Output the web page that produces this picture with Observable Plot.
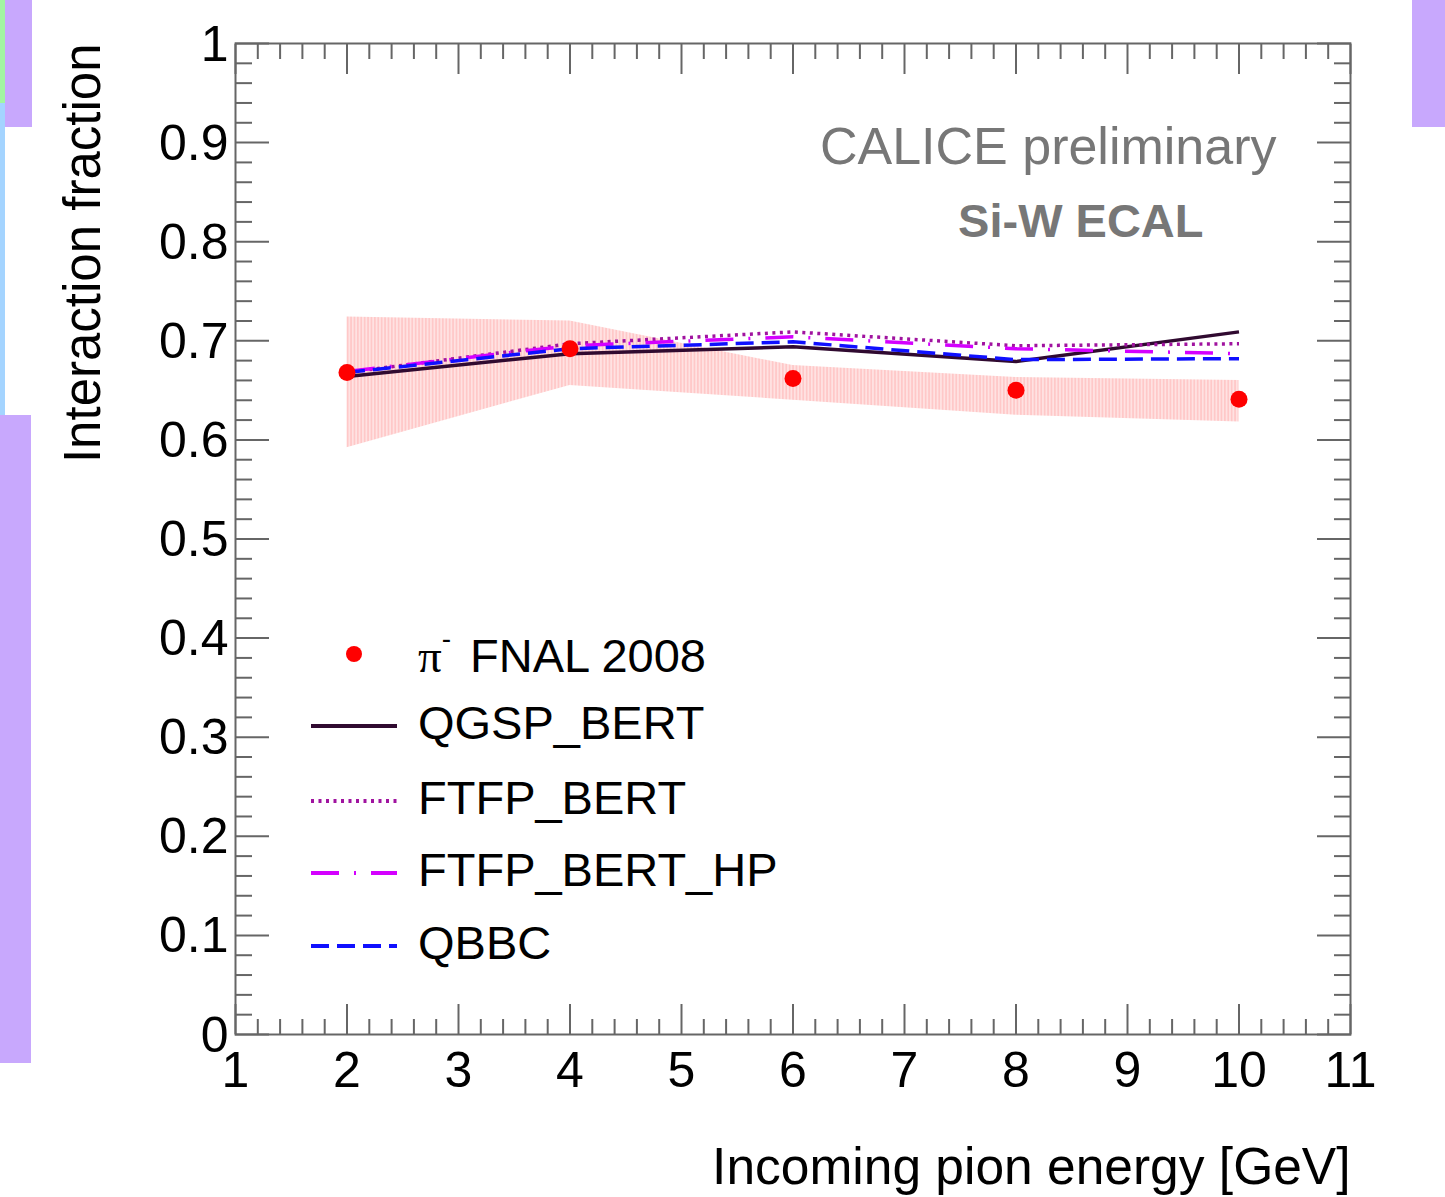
<!DOCTYPE html>
<html>
<head>
<meta charset="utf-8">
<script src="https://cdn.jsdelivr.net/npm/d3@7"></script>
<script src="https://cdn.jsdelivr.net/npm/@observablehq/plot@0.6"></script>
<style>
  body { margin: 0; background: #fff; }
  #wrap { position: relative; width: 1445px; height: 1197px; overflow: hidden; background: #fff;
          font-family: "Liberation Sans", Arial, Helvetica, sans-serif; }
  #wrap svg { position: absolute; left: 0; top: 0; }
  .deco { position: absolute; }
</style>
</head>
<body>
<div id="wrap"></div>
<script>
// ---------- data ----------
const energies   = [2, 4, 6, 8, 10];
const dataFrac   = [0.668, 0.692, 0.662, 0.650, 0.641];
const bandLow    = [0.592, 0.655, 0.640, 0.625, 0.618];
const bandHigh   = [0.724, 0.720, 0.675, 0.663, 0.660];
const qgspBert   = [0.664, 0.687, 0.694, 0.679, 0.709];
const ftfpBert   = [0.668, 0.697, 0.709, 0.695, 0.697];
const ftfpBertHP = [0.669, 0.695, 0.704, 0.692, 0.687];
const qbbc       = [0.668, 0.692, 0.699, 0.681, 0.682];

const xTicks = [1, 2, 3, 4, 5, 6, 7, 8, 9, 10, 11];
const xTickLabels = ["1", "2", "3", "4", "5", "6", "7", "8", "9", "10", "11"];
const yTicks = [0, 0.1, 0.2, 0.3, 0.4, 0.5, 0.6, 0.7, 0.8, 0.9, 1];
const yTickLabels = ["0", "0.1", "0.2", "0.3", "0.4", "0.5", "0.6", "0.7", "0.8", "0.9", "1"];

const legendLabels = ["FNAL 2008", "QGSP_BERT", "FTFP_BERT", "FTFP_BERT_HP", "QBBC"];

// ---------- styles ----------
const font = "Liberation Sans, Arial, Helvetica, sans-serif";
const tickColor = "#666666";
const models = [
  {name: "QGSP_BERT",    values: qgspBert,   stroke: "#300a30", dash: null,          width: 3.5},
  {name: "FTFP_BERT",    values: ftfpBert,   stroke: "#a0139f", dash: "3,4.5",       width: 3.5},
  {name: "FTFP_BERT_HP", values: ftfpBertHP, stroke: "#d400ff", dash: "28,15,2,15",  width: 3.5},
  {name: "QBBC",         values: qbbc,       stroke: "#1010ff", dash: "18,8",        width: 3.5}
];

const bandRows = energies.map((e, i) => ({e, lo: bandLow[i], hi: bandHigh[i]}));
const dataRows = energies.map((e, i) => ({e, v: dataFrac[i]}));
const xMinor = d3.ticks(1, 11, 50).filter(t => !xTicks.some(m => Math.abs(m - t) < 1e-9));
const yMinor = d3.ticks(0, 1, 50).filter(t => !yTicks.some(m => Math.abs(m - t) < 1e-9));

const tickOpts = {stroke: tickColor, strokeWidth: 2, tickFormat: () => ""};

const chart = Plot.plot({
  width: 1445,
  height: 1197,
  marginLeft: 235,
  marginRight: 95,
  marginTop: 43,
  marginBottom: 163,
  style: {fontFamily: font, background: "transparent", color: "#000"},
  x: {domain: [1, 11], label: null},
  y: {domain: [0, 1], label: null},
  marks: [
    () => {
      const defs = d3.create("svg:defs");
      const p = defs.append("pattern").attr("id", "bandHatch").attr("patternUnits", "userSpaceOnUse")
        .attr("width", 3.4).attr("height", 10);
      p.append("rect").attr("width", 3.4).attr("height", 10).attr("fill", "#ffe2e2");
      p.append("rect").attr("width", 1.7).attr("height", 10).attr("fill", "#ffc8c8");
      return defs.node();
    },
    Plot.areaY(bandRows, {x: "e", y1: "lo", y2: "hi", fill: "url(#bandHatch)"}),
    ...models.map(m => Plot.line(energies.map((e, i) => ({e, v: m.values[i]})), {
      x: "e", y: "v", stroke: m.stroke, strokeWidth: m.width,
      strokeDasharray: m.dash, strokeLinecap: "butt", strokeLinejoin: "round"
    })),
    Plot.dot(dataRows, {x: "e", y: "v", r: 8.5, fill: "#ff0000", stroke: "none"}),

    // major / minor ticks (inward), all four sides
    Plot.axisX(xTicks, {anchor: "bottom", tickSize: -30, ...tickOpts}),
    Plot.axisX(xMinor, {anchor: "bottom", tickSize: -15, ...tickOpts}),
    Plot.axisX(xTicks, {anchor: "top", tickSize: -30, ...tickOpts}),
    Plot.axisX(xMinor, {anchor: "top", tickSize: -15, ...tickOpts}),
    Plot.axisY(yTicks, {anchor: "left", tickSize: -34, ...tickOpts}),
    Plot.axisY(yMinor, {anchor: "left", tickSize: -17, ...tickOpts}),
    Plot.axisY(yTicks, {anchor: "right", tickSize: -34, ...tickOpts}),
    Plot.axisY(yMinor, {anchor: "right", tickSize: -17, ...tickOpts}),

    // tick labels
    Plot.axisX(xTicks, {anchor: "bottom", tickSize: 0, tickPadding: 17, fontSize: 50, fill: "#000",
      tickFormat: d => xTickLabels[xTicks.indexOf(d)]}),
    Plot.axisY(yTicks, {anchor: "left", tickSize: 0, tickPadding: 7, fontSize: 50, fill: "#000", dy: 1,
      tickFormat: d => yTickLabels[yTicks.findIndex(t => Math.abs(t - d) < 1e-9)]}),

    Plot.frame({stroke: tickColor, strokeWidth: 2}),

    // axis titles
    Plot.text(["Incoming pion energy [GeV]"], {text: d => d, frameAnchor: "bottom-right", dy: 149,
      textAnchor: "end", lineAnchor: "bottom", fontSize: 51.5, fill: "#000"}),
    Plot.text(["Interaction fraction"], {text: d => d, frameAnchor: "top-left", dx: -136, dy: 0, rotate: -90,
      textAnchor: "end", lineAnchor: "bottom", fontSize: 51, fill: "#000"}),

    // annotations
    Plot.text(["CALICE preliminary"], {text: d => d, frameAnchor: "top-right", dx: -74, dy: 120,
      textAnchor: "end", lineAnchor: "bottom", fontSize: 52, fill: "#777777"}),
    Plot.text(["Si-W ECAL"], {text: d => d, frameAnchor: "top-right", dx: -147, dy: 193,
      textAnchor: "end", lineAnchor: "bottom", fontSize: 47, fontWeight: "bold", fill: "#777777"})
  ]
});

const wrap = document.getElementById("wrap");
wrap.appendChild(chart);

// ---------- legend (drawn inside the frame, as in the reference) ----------
const leg = d3.select(wrap).append("svg")
  .attr("width", 1445).attr("height", 1197)
  .style("pointer-events", "none")
  .attr("font-family", font);

const rowY = [654, 726, 801, 873, 946];
const symX0 = 311, symX1 = 397, textX = 418;

leg.append("circle").attr("cx", 354).attr("cy", rowY[0]).attr("r", 8).attr("fill", "#ff0000");
models.forEach((m, i) => {
  leg.append("line")
    .attr("x1", symX0).attr("x2", symX1).attr("y1", rowY[i + 1]).attr("y2", rowY[i + 1])
    .attr("stroke", m.stroke).attr("stroke-width", 4)
    .attr("stroke-dasharray", m.dash);
});
const t0 = leg.append("text").attr("x", textX).attr("y", rowY[0] + 18).attr("font-size", 47).attr("fill", "#000");
t0.append("tspan").attr("font-family", "Liberation Serif, DejaVu Serif, serif").text("π");
t0.append("tspan").attr("font-size", 28).attr("dy", -24).text("-");
t0.append("tspan").attr("x", 470).attr("dy", 24).text(legendLabels[0]);
legendLabels.slice(1).forEach((lab, i) => {
  leg.append("text").attr("x", textX).attr("y", rowY[i + 1] + 13)
    .attr("font-size", 47).attr("fill", "#000").text(lab);
});

// ---------- decorative side stripes of the source slide ----------
const deco = [
  {l: 0, t: 0, w: 5, h: 103, c: "#a2f6a2"},
  {l: 5, t: 0, w: 27, h: 127, c: "#c8a8fd"},
  {l: 0, t: 103, w: 5, h: 312, c: "#a4d4ff"},
  {l: 0, t: 415, w: 31, h: 648, c: "#c8a8fd"},
  {l: 1412, t: 0, w: 33, h: 127, c: "#c8a8fd"}
];
deco.forEach(d => {
  const div = document.createElement("div");
  div.className = "deco";
  Object.assign(div.style, {left: d.l + "px", top: d.t + "px", width: d.w + "px", height: d.h + "px", background: d.c});
  wrap.appendChild(div);
});
</script>
</body>
</html>
